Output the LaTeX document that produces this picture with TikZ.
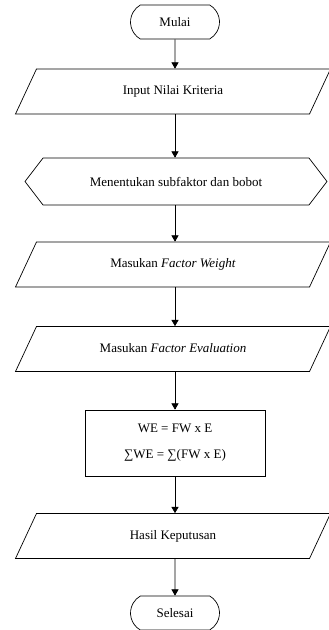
\documentclass[tikz,border=0pt]{standalone}
\usepackage{fontspec}
\setmainfont{Liberation Serif}
\usepackage{tikz}
\usetikzlibrary{shapes}
\usetikzlibrary{shapes.geometric}
\usetikzlibrary{shapes.misc}
\usetikzlibrary{shapes.symbols}
\usetikzlibrary{arrows}
\tikzstyle{terminal}=[rounded rectangle,rounded rectangle arc length=120,draw=black,inner sep=0mm,minimum width=89pt,minimum height=34pt]
\tikzstyle{io}=[trapezium,trapezium left angle=65,trapezium right angle=115,trapezium stretches body,draw=black,text height=9pt,text depth=3pt,inner xsep=0pt,inner ysep=16.5pt,minimum width=315pt]
\tikzstyle{prep}=[signal,signal to=west and east,signal pointer angle=105,draw=black,inner sep=0mm,minimum width=302pt,minimum height=47pt]
\tikzstyle{process}=[rectangle,draw=black,inner sep=0mm,minimum width=180pt,minimum height=66pt,align=center]
\tikzstyle{flow}=[->,>=triangle 60]
\tikzset{every picture/.style={
    line width=0.7pt
  }
}

\begin{document}
\begin{tikzpicture}[x=1pt,y=-1pt,font=\fontsize{13}{26}\selectfont]
          \useasboundingbox (0,0) rectangle (329,630);
          \node[terminal] at (175,22) (mulai) {Mulai};
          \node[io] at (173,91.5) (input) {Input Nilai Kriteria};
          \node[prep] at (176,181.5) (sub) {Menentukan subfaktor dan bobot};
          \node[io] at (173,264.5) (fw) {Masukan \textit{Factor Weight}};
          \node[io] at (173,349) (fe) {Masukan \textit{Factor Evaluation}};
          \node[process] at (175,443) (we) {WE = FW x E\\∑WE = ∑(FW x E)};
          \node[io] at (173,536) (hasil) {Hasil Keputusan};
          \node[terminal] at (175,613) (selesai) {Selesai};
          \draw [flow] (mulai) -- (mulai |- input.north);
          \draw [flow] (mulai |- input.south) -- (mulai |- sub.north);
          \draw [flow] (mulai |- sub.south) -- (mulai |- fw.north);
          \draw [flow] (mulai |- fw.south) -- (mulai |- fe.north);
          \draw [flow] (mulai |- fe.south) -- (we);
          \draw [flow] (we) -- (mulai |- hasil.north);
          \draw [flow] (mulai |- hasil.south) -- (selesai);
        \end{tikzpicture}
\end{document}
